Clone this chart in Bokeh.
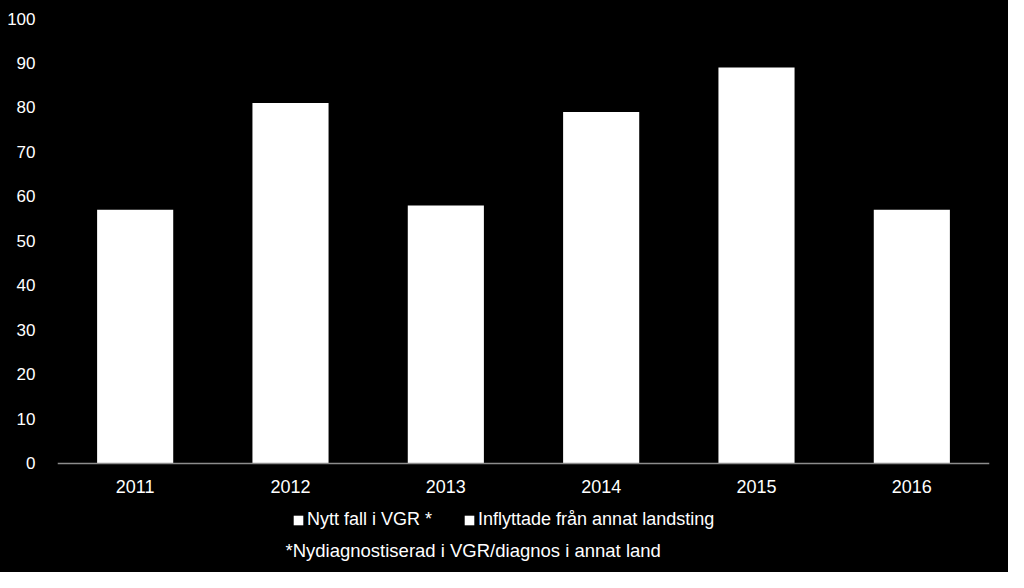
from bokeh.plotting import figure
from bokeh.models import Legend, LegendItem, Label, Range1d, Span
from bokeh.core.properties import value
from bokeh.embed import file_html
from bokeh.resources import INLINE

years = ["2011", "2012", "2013", "2014", "2015", "2016"]
nytt_fall = [57, 81, 58, 79, 89, 57]
inflyttade = [0, 0, 0, 0, 0, 0]
series_names = ["Nytt fall i VGR *", "Inflyttade från annat landsting"]
footnote = "*Nydiagnostiserad i VGR/diagnos i annat land"
y_ticks = [0, 10, 20, 30, 40, 50, 60, 70, 80, 90, 100]

FONT = "Liberation Sans"
data = {"years": years, "nytt": nytt_fall, "infl": inflyttade,
        "base": [0] * len(years)}

p = figure(x_range=years, width=1008, height=572, output_backend="svg",
           toolbar_location=None, background_fill_color="black",
           border_fill_color="black",
           min_border_left=57, min_border_right=19, min_border_top=18,
           min_border_bottom=0)
p.styles = {"background-color": "black"}
p.outline_line_color = None
# extra room below zero holds the category labels, legend and footnote
p.y_range = Range1d(-24.5, 100)

rs = p.vbar_stack(["nytt", "infl"], x="years", width=0.49, source=data,
                  color=["white", "white"], line_color=None)

p.xgrid.grid_line_color = None
p.ygrid.grid_line_color = None
p.xaxis.visible = False
p.yaxis.ticker = y_ticks
p.yaxis.axis_line_color = None
p.yaxis.major_tick_line_color = None
p.yaxis.minor_tick_line_color = None
p.yaxis.major_label_text_color = "white"
p.yaxis.major_label_text_font = FONT
p.yaxis.major_label_text_font_size = "17px"
p.yaxis.major_label_standoff = 16

# category axis baseline at zero
p.add_layout(Span(location=0, dimension="width", line_color="#8c8c8c",
                  line_width=1.5))

# category labels under the bars
p.text(x="years", y="base", text="years", source=data, y_offset=23,
       text_color="white", text_font=value(FONT), text_font_size="18px",
       text_align="center", text_baseline="middle")

legend = Legend(items=[LegendItem(label=series_names[0], renderers=[rs[0]]),
                       LegendItem(label=series_names[1], renderers=[rs[1]])],
                orientation="horizontal", location=(235, 42),
                background_fill_alpha=0, border_line_color=None,
                label_text_color="white", label_text_font=FONT,
                label_text_font_size="18px", glyph_width=12, glyph_height=12,
                label_standoff=3, spacing=31, padding=0, margin=0)
p.add_layout(legend, "center")

note = Label(x=228, y=22, x_units="screen", y_units="screen", text=footnote,
             text_color="white", text_font=FONT, text_font_size="18.5px",
             text_baseline="middle")
p.add_layout(note)

open("out.html", "w").write(file_html(p, INLINE))
